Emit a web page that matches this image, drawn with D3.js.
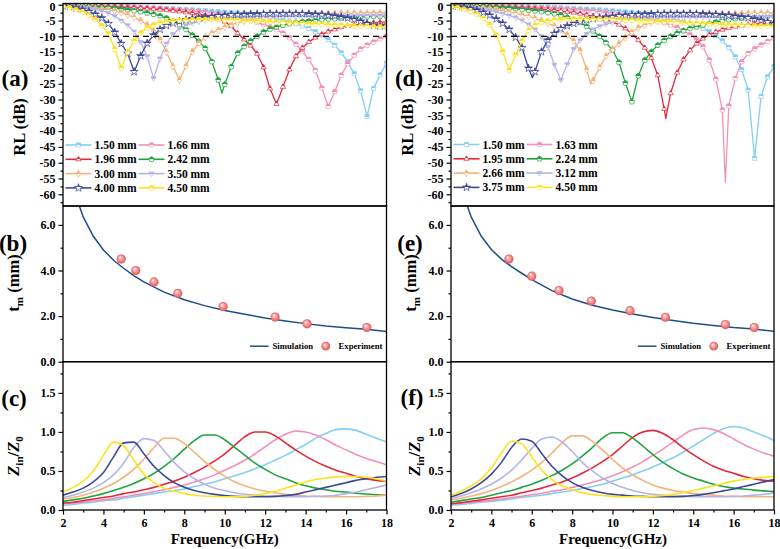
<!DOCTYPE html>
<html><head><meta charset="utf-8">
<script src="https://cdn.jsdelivr.net/npm/d3@7"></script>
<style>
body{margin:0;background:#fff;}
svg{display:block;}
</style></head><body>
<svg id="chart" width="780" height="549"></svg>
<script>
// ---------------- DATA ----------------
const freqRL = [2.00,2.32,2.64,2.96,3.28,3.60,3.92,4.24,4.56,4.88,5.20,5.52,5.84,6.16,6.48,6.80,7.12,7.44,7.76,8.08,8.40,8.72,9.04,9.36,9.68,10.00,10.32,10.64,10.96,11.28,11.60,11.92,12.24,12.56,12.88,13.20,13.52,13.84,14.16,14.48,14.80,15.12,15.44,15.76,16.08,16.40,16.72,17.04,17.36,17.68,18.00];

const thicknessA = ["1.50 mm","1.66 mm","1.96 mm","2.42 mm","3.00 mm","3.50 mm","4.00 mm","4.50 mm"];
const thicknessD = ["1.50 mm","1.63 mm","1.95 mm","2.24 mm","2.66 mm","3.12 mm","3.75 mm","4.50 mm"];

// panel (a) RL values (dB)
const rlA150 = [-0.1,-0.15,-0.2,-0.25,-0.3,-0.35,-0.4,-0.45,-0.5,-0.55,-0.6,-0.7,-0.8,-0.9,-1.0,-1.1,-1.2,-1.3,-1.4,-1.5,-1.6,-1.7,-1.85,-2.0,-2.15,-2.3,-2.5,-2.7,-2.9,-3.1,-3.4,-3.7,-4.0,-4.4,-4.9,-5.4,-6.0,-6.7,-7.5,-8.5,-9.6,-11.0,-12.8,-15.2,-18.0,-21.8,-27.2,-35.4,-26.5,-22.2,-18.5];
const rlA166 = [-0.1,-0.15,-0.2,-0.25,-0.3,-0.35,-0.4,-0.5,-0.55,-0.6,-0.7,-0.8,-0.9,-1.0,-1.1,-1.2,-1.35,-1.5,-1.65,-1.8,-2.0,-2.2,-2.4,-2.6,-2.9,-3.2,-3.6,-4.0,-4.5,-5.0,-5.6,-6.3,-7.0,-7.9,-9.0,-10.4,-12.5,-14.8,-17.3,-20.8,-26.3,-32.2,-27.5,-22.3,-18.7,-16.0,-14.0,-12.8,-11.8,-10.8,-9.9];
const rlA196 = [-0.15,-0.2,-0.25,-0.3,-0.35,-0.4,-0.5,-0.6,-0.7,-0.8,-0.9,-1.0,-1.1,-1.25,-1.4,-1.55,-1.7,-1.9,-2.1,-2.4,-2.7,-3.0,-3.4,-3.9,-4.5,-5.3,-6.8,-9.0,-11.0,-12.9,-15.5,-19.8,-26.5,-31.4,-26.0,-20.5,-16.3,-13.6,-11.8,-10.4,-9.4,-8.5,-7.8,-7.1,-6.7,-6.4,-6.1,-5.9,-5.7,-5.55,-5.4];
const rlA242 = [-0.2,-0.25,-0.35,-0.45,-0.55,-0.65,-0.8,-0.95,-1.1,-1.3,-1.6,-1.9,-2.2,-2.6,-3.0,-3.5,-4.2,-5.1,-6.3,-7.8,-9.6,-11.6,-13.8,-18.0,-23.8,-25.2,-19.6,-15.3,-13.2,-11.5,-10.0,-8.6,-7.7,-7.0,-6.5,-6.0,-5.6,-5.3,-5.1,-4.9,-4.7,-4.5,-4.4,-4.2,-4.1,-4.0,-3.9,-3.8,-3.7,-3.65,-3.6];
const rlA300 = [-0.3,-0.4,-0.55,-0.7,-0.9,-1.1,-1.35,-1.65,-2.0,-2.5,-3.2,-4.0,-5.0,-6.3,-8.3,-11.0,-15.0,-19.5,-23.8,-19.4,-14.8,-12.1,-10.3,-9.0,-8.0,-7.1,-6.3,-5.7,-5.2,-4.8,-4.4,-4.1,-3.85,-3.65,-3.5,-3.35,-3.2,-3.1,-3.0,-2.95,-2.9,-2.85,-2.8,-2.75,-2.7,-2.7,-2.65,-2.65,-2.6,-2.6,-2.6];
const rlA350 = [-0.3,-0.45,-0.6,-0.8,-1.05,-1.4,-1.9,-2.6,-3.6,-5.0,-6.5,-8.5,-11.8,-16.3,-23.3,-17.0,-12.3,-9.3,-7.6,-6.5,-5.8,-5.3,-4.9,-4.6,-4.4,-4.2,-4.05,-3.95,-3.85,-3.8,-3.75,-3.7,-3.7,-3.65,-3.65,-3.6,-3.6,-3.6,-3.55,-3.55,-3.5,-3.5,-3.5,-3.45,-3.45,-3.45,-3.4,-3.4,-3.4,-3.4,-3.4];
const rlA400 = [-0.3,-0.6,-1.0,-1.5,-2.1,-3.0,-4.2,-6.0,-8.7,-12.3,-15.4,-21.2,-16.2,-12.2,-9.6,-7.8,-6.6,-5.8,-5.2,-4.8,-4.4,-4.1,-3.9,-3.7,-3.5,-3.35,-3.2,-3.1,-3.0,-2.95,-2.9,-2.85,-2.8,-2.8,-2.8,-2.8,-2.8,-2.85,-2.9,-3.0,-3.1,-3.3,-3.55,-3.85,-4.2,-4.6,-5.2,-5.9,-6.5,-6.7,-6.6];
const rlA450 = [-0.5,-0.9,-1.5,-2.3,-3.3,-4.7,-6.6,-9.2,-14.0,-20.0,-15.0,-11.4,-8.9,-7.3,-6.3,-5.7,-5.3,-5.05,-4.9,-4.8,-4.75,-4.7,-4.7,-4.7,-4.75,-4.8,-4.85,-4.9,-5.0,-5.1,-5.2,-5.3,-5.4,-5.5,-5.6,-5.7,-5.8,-5.9,-6.0,-6.1,-6.2,-6.3,-6.4,-6.5,-6.6,-6.7,-6.8,-6.85,-6.9,-6.95,-7.0];
// off-grid dip minima (drawn in the line, no marker)
const dipA_series = [3];
const dipA_freq = [9.86];
const dipA_rl = [-28.0];

// panel (d) RL values (dB)
const rlD150 = [-0.1,-0.12,-0.15,-0.2,-0.22,-0.25,-0.3,-0.35,-0.4,-0.45,-0.5,-0.55,-0.6,-0.7,-0.75,-0.8,-0.9,-1.0,-1.1,-1.2,-1.3,-1.4,-1.5,-1.6,-1.75,-1.9,-2.05,-2.2,-2.4,-2.6,-2.85,-3.1,-3.4,-3.8,-4.3,-4.8,-5.4,-6.0,-6.7,-7.5,-8.5,-9.8,-11.4,-13.5,-16.5,-20.5,-27.0,-48.6,-29.0,-22.8,-19.6];
const rlD163 = [-0.1,-0.15,-0.2,-0.25,-0.3,-0.35,-0.4,-0.45,-0.5,-0.55,-0.6,-0.7,-0.8,-0.9,-1.0,-1.1,-1.2,-1.3,-1.45,-1.6,-1.75,-1.9,-2.1,-2.3,-2.5,-2.7,-2.95,-3.2,-3.5,-3.8,-4.2,-4.6,-5.1,-5.7,-6.4,-7.2,-8.2,-9.5,-11.0,-13.3,-17.5,-23.5,-33.3,-32.0,-23.3,-18.0,-15.4,-13.9,-12.7,-11.6,-10.6];
const rlD195 = [-0.15,-0.2,-0.25,-0.3,-0.35,-0.4,-0.5,-0.6,-0.7,-0.8,-0.9,-1.0,-1.15,-1.3,-1.45,-1.6,-1.8,-2.0,-2.25,-2.5,-2.8,-3.2,-3.6,-4.1,-4.7,-5.4,-6.3,-7.5,-9.2,-11.2,-13.6,-16.8,-22.3,-33.0,-28.0,-21.5,-17.3,-14.4,-12.3,-10.7,-9.5,-8.6,-7.9,-7.3,-6.9,-6.6,-6.3,-6.1,-5.95,-5.8,-5.7];
const rlD224 = [-0.2,-0.25,-0.3,-0.4,-0.5,-0.6,-0.7,-0.85,-1.0,-1.15,-1.3,-1.5,-1.7,-1.95,-2.2,-2.5,-2.85,-3.3,-4.0,-4.7,-5.6,-6.8,-8.3,-10.0,-12.0,-14.3,-18.2,-24.8,-30.7,-22.5,-17.5,-14.9,-12.8,-11.3,-10.0,-9.0,-8.2,-7.5,-7.0,-6.4,-5.9,-5.4,-5.0,-4.7,-4.4,-4.2,-4.0,-3.9,-3.8,-3.7,-3.6];
const rlD266 = [-0.2,-0.3,-0.45,-0.6,-0.8,-1.05,-1.3,-1.6,-1.9,-2.3,-2.7,-3.2,-3.7,-4.3,-5.0,-5.8,-6.8,-8.0,-9.5,-11.5,-14.5,-20.5,-24.0,-19.8,-16.3,-14.1,-12.3,-10.4,-8.7,-7.3,-6.4,-5.7,-5.2,-4.8,-4.4,-4.1,-3.85,-3.65,-3.5,-3.35,-3.2,-3.1,-3.0,-2.9,-2.85,-2.8,-2.75,-2.7,-2.7,-2.65,-2.6];
const rlD312 = [-0.3,-0.45,-0.6,-0.85,-1.1,-1.45,-1.85,-2.3,-2.8,-3.4,-4.1,-5.0,-6.2,-7.8,-10.0,-13.3,-19.0,-23.8,-18.8,-14.0,-11.2,-9.2,-7.8,-6.8,-6.1,-5.6,-5.2,-4.9,-4.7,-4.5,-4.35,-4.25,-4.15,-4.1,-4.05,-4.0,-4.0,-3.95,-3.95,-3.9,-3.9,-3.9,-3.85,-3.85,-3.85,-3.8,-3.8,-3.8,-3.8,-3.8,-3.8];
const rlD375 = [-0.3,-0.5,-0.8,-1.2,-1.7,-2.4,-3.3,-4.5,-5.9,-7.8,-10.3,-13.6,-20.1,-21.2,-14.9,-11.2,-9.1,-7.6,-6.7,-5.9,-5.3,-4.8,-4.4,-4.1,-3.9,-3.7,-3.5,-3.35,-3.2,-3.1,-3.0,-2.9,-2.85,-2.8,-2.8,-2.8,-2.8,-2.8,-2.85,-2.9,-3.0,-3.1,-3.25,-3.4,-3.6,-3.85,-4.15,-4.5,-4.9,-5.4,-5.9];
const rlD450 = [-0.5,-0.9,-1.4,-2.1,-3.0,-4.3,-6.3,-9.6,-14.8,-20.7,-15.8,-11.4,-8.1,-6.5,-5.6,-5.1,-4.85,-4.7,-4.6,-4.55,-4.5,-4.5,-4.5,-4.55,-4.6,-4.65,-4.7,-4.8,-4.9,-5.0,-5.1,-5.2,-5.3,-5.4,-5.5,-5.6,-5.7,-5.8,-5.9,-6.0,-6.1,-6.2,-6.3,-6.4,-6.45,-6.5,-6.55,-6.6,-6.65,-6.7,-6.7];
const dipD_series = [6, 4, 2, 1];
const dipD_freq = [6.03, 8.92, 12.64, 15.59];
const dipD_rl = [-23.1, -25.0, -36.0, -56.2];

// panels (b)/(e): matching thickness
const expA_freq = [4.88, 5.60, 6.50, 7.68, 9.92, 12.49, 14.07, 17.03];
const expA_t = [4.50, 4.00, 3.50, 3.00, 2.42, 1.96, 1.66, 1.50];
const expD_freq = [4.87, 6.00, 7.35, 8.95, 10.87, 12.62, 15.59, 17.02];
const expD_t = [4.50, 3.75, 3.12, 2.66, 2.24, 1.95, 1.63, 1.50];
const simFreq = [2.6, 2.8, 3.0, 3.5, 4.0, 4.5, 5.0, 5.5, 6.0, 7.0, 8.0, 9.0, 10.0, 11.0, 12.0, 13.0, 14.0, 15.0, 16.0, 17.0, 18.0];
const simA_t = [7.5, 6.85, 6.35, 5.5, 4.9, 4.45, 4.1, 3.78, 3.5, 3.05, 2.72, 2.46, 2.25, 2.08, 1.92, 1.79, 1.67, 1.57, 1.49, 1.42, 1.33];
const simD_t = [7.5, 6.85, 6.35, 5.5, 4.92, 4.5, 4.17, 3.88, 3.6, 3.12, 2.75, 2.48, 2.27, 2.09, 1.94, 1.81, 1.69, 1.59, 1.5, 1.43, 1.34];

// panels (c)/(f): |Zin/Z0|
const zFreq = [2,2.5,3,3.5,4,4.5,5,5.5,6,6.5,7,7.5,8,8.5,9,9.5,10,10.5,11,11.5,12,12.5,13,13.5,14,14.5,15,15.5,16,16.5,17,17.5,18];
const zC150 = [0.06,0.07,0.09,0.10,0.12,0.13,0.15,0.17,0.19,0.21,0.23,0.25,0.27,0.30,0.33,0.36,0.40,0.44,0.48,0.53,0.58,0.64,0.70,0.77,0.84,0.92,0.98,1.03,1.04,1.02,0.97,0.92,0.87];
const zC166 = [0.08,0.09,0.10,0.12,0.13,0.15,0.17,0.19,0.21,0.235,0.26,0.29,0.32,0.36,0.40,0.45,0.51,0.57,0.64,0.72,0.81,0.90,0.97,1.01,1.0,0.96,0.90,0.83,0.77,0.71,0.66,0.62,0.58];
const zC196 = [0.09,0.10,0.12,0.14,0.16,0.18,0.21,0.23,0.26,0.29,0.33,0.37,0.42,0.48,0.55,0.63,0.72,0.83,0.94,1.0,1.0,0.95,0.86,0.77,0.69,0.62,0.56,0.51,0.47,0.43,0.40,0.38,0.37];
const zC242 = [0.11,0.13,0.15,0.18,0.21,0.25,0.29,0.34,0.40,0.47,0.56,0.66,0.78,0.89,0.96,0.96,0.90,0.80,0.70,0.60,0.52,0.45,0.40,0.35,0.31,0.28,0.26,0.24,0.23,0.215,0.205,0.195,0.19];
const zC300 = [0.14,0.16,0.19,0.23,0.28,0.34,0.42,0.52,0.65,0.80,0.92,0.92,0.85,0.74,0.62,0.52,0.43,0.36,0.31,0.27,0.24,0.22,0.20,0.19,0.18,0.175,0.17,0.17,0.17,0.17,0.175,0.18,0.19];
const zC350 = [0.16,0.19,0.23,0.28,0.35,0.45,0.60,0.80,0.915,0.89,0.76,0.61,0.49,0.40,0.33,0.28,0.25,0.22,0.20,0.19,0.18,0.175,0.17,0.17,0.17,0.175,0.18,0.19,0.21,0.23,0.26,0.29,0.32];
const zC400 = [0.19,0.23,0.28,0.36,0.48,0.68,0.86,0.87,0.72,0.56,0.44,0.35,0.29,0.25,0.22,0.20,0.185,0.175,0.17,0.17,0.17,0.175,0.185,0.20,0.23,0.26,0.29,0.32,0.35,0.38,0.40,0.42,0.43];
const zC450 = [0.23,0.29,0.37,0.50,0.70,0.87,0.82,0.64,0.46,0.35,0.28,0.24,0.21,0.19,0.18,0.175,0.17,0.17,0.175,0.19,0.21,0.24,0.28,0.32,0.36,0.39,0.41,0.425,0.43,0.43,0.42,0.40,0.37];
const zF150 = [0.06,0.07,0.085,0.10,0.11,0.125,0.14,0.16,0.175,0.19,0.21,0.23,0.25,0.275,0.30,0.33,0.37,0.41,0.45,0.50,0.55,0.61,0.67,0.74,0.82,0.90,0.98,1.04,1.07,1.05,1.0,0.95,0.89];
const zF163 = [0.075,0.085,0.10,0.11,0.125,0.14,0.16,0.175,0.195,0.215,0.24,0.26,0.29,0.32,0.355,0.39,0.44,0.49,0.55,0.62,0.70,0.78,0.87,0.96,1.03,1.05,1.03,0.98,0.91,0.84,0.78,0.73,0.69];
const zF195 = [0.08,0.095,0.11,0.13,0.15,0.17,0.19,0.22,0.25,0.28,0.32,0.36,0.41,0.47,0.54,0.62,0.71,0.82,0.93,1.0,1.02,0.98,0.90,0.80,0.71,0.63,0.56,0.51,0.47,0.43,0.40,0.38,0.37];
const zF224 = [0.10,0.12,0.14,0.16,0.19,0.22,0.25,0.29,0.33,0.38,0.44,0.51,0.59,0.69,0.80,0.92,0.99,0.99,0.92,0.82,0.71,0.61,0.53,0.46,0.41,0.37,0.33,0.30,0.28,0.27,0.255,0.245,0.235];
const zF266 = [0.13,0.15,0.18,0.21,0.25,0.30,0.36,0.43,0.51,0.61,0.73,0.86,0.95,0.95,0.88,0.77,0.65,0.54,0.45,0.38,0.32,0.28,0.25,0.23,0.21,0.20,0.19,0.18,0.175,0.17,0.17,0.17,0.17];
const zF312 = [0.15,0.18,0.22,0.27,0.33,0.41,0.51,0.64,0.79,0.91,0.935,0.87,0.75,0.61,0.50,0.41,0.34,0.29,0.25,0.22,0.20,0.19,0.18,0.175,0.17,0.17,0.17,0.17,0.175,0.18,0.19,0.20,0.22];
const zF375 = [0.17,0.21,0.27,0.35,0.46,0.61,0.80,0.91,0.88,0.72,0.56,0.44,0.35,0.29,0.25,0.22,0.20,0.19,0.18,0.175,0.17,0.17,0.17,0.175,0.185,0.20,0.22,0.245,0.27,0.30,0.33,0.36,0.39];
const zF450 = [0.19,0.24,0.31,0.40,0.54,0.73,0.88,0.85,0.68,0.51,0.39,0.31,0.26,0.22,0.20,0.185,0.175,0.17,0.17,0.17,0.175,0.185,0.20,0.22,0.25,0.28,0.31,0.34,0.37,0.39,0.41,0.42,0.43];

// ticks
const rlTicks = [0,-5,-10,-15,-20,-25,-30,-35,-40,-45,-50,-55,-60];
const tmTicks = [0,2,4,6];
const zTicks = [0,0.5,1.0,1.5];
const freqTicks = [2,4,6,8,10,12,14,16,18];

// ---------------- STYLE / LAYOUT ----------------
const FONT = "'Liberation Serif','Times New Roman',serif";
const seriesColors = ["#83cff3","#f290b8","#e4283c","#1fa43f","#f2b47b","#b4b5e5","#3e4898","#fde31f"];
const Y_TOP = 3.5, Y_AB = 206, Y_BC = 361.7, Y_BOT = 510;

const svg = d3.select("#chart");
const defs = svg.append("defs");
seriesColors.forEach((c,i)=>{
  const lg = defs.append("linearGradient").attr("id","hf"+i).attr("x1",0).attr("y1",0).attr("x2",0).attr("y2",1);
  lg.append("stop").attr("offset","0%").attr("stop-color",c);
  lg.append("stop").attr("offset","50%").attr("stop-color",c);
  lg.append("stop").attr("offset","50%").attr("stop-color","#fff");
  lg.append("stop").attr("offset","100%").attr("stop-color","#fff");
});
const rg = defs.append("radialGradient").attr("id","sphere").attr("cx","50%").attr("cy","50%").attr("r","50%").attr("fx","35%").attr("fy","30%");
rg.append("stop").attr("offset","0%").attr("stop-color","#ffffff");
rg.append("stop").attr("offset","30%").attr("stop-color","#f9b8b8");
rg.append("stop").attr("offset","75%").attr("stop-color","#f07474");
rg.append("stop").attr("offset","100%").attr("stop-color","#de5a5a");

function polygonSym(n, rot, scale){
  return {draw(ctx, size){
    const r = Math.sqrt(size)*scale;
    for(let i=0;i<n;i++){
      const a = rot + i*2*Math.PI/n;
      const px = r*Math.cos(a), py = r*Math.sin(a);
      if(i===0) ctx.moveTo(px,py); else ctx.lineTo(px,py);
    }
    ctx.closePath();
  }};
}
const symbolTypes = [d3.symbolSquare, d3.symbolCircle, polygonSym(3,-Math.PI/2,0.62), polygonSym(5,-Math.PI/2,0.6),
  d3.symbolDiamond, polygonSym(3,Math.PI/2,0.62), d3.symbolStar, polygonSym(6,0,0.58)];
const symSizes = [17,19,24,22,16,24,20,21];

function styleAxis(g){
  g.attr("font-family",FONT).attr("font-size",12).attr("font-weight","bold");
  g.select(".domain").remove();
  g.selectAll("line").attr("stroke","#000").attr("stroke-width",1.2);
  g.selectAll("text").attr("fill","#000");
}

function drawColumn(cfg){
  const x = d3.scaleLinear().domain([2,18]).range([cfg.x0,cfg.x1]);
  const yRL = d3.scaleLinear().domain([-63.7,0.4]).range([Y_AB,Y_TOP]);
  const yT = d3.scaleLinear().domain([0,6.83]).range([Y_BC,Y_AB]);
  const yZ = d3.scaleLinear().domain([0,1.9]).range([Y_BOT,Y_BC]);
  const id = cfg.id;
  const panels = [[Y_TOP,Y_AB],[Y_AB,Y_BC],[Y_BC,Y_BOT]];
  panels.forEach((p,k)=>{
    defs.append("clipPath").attr("id",`clip${id}${k}`).append("rect")
      .attr("x",cfg.x0).attr("y",p[0]).attr("width",cfg.x1-cfg.x0).attr("height",p[1]-p[0]);
  });
  const root = svg.append("g");

  // ---- panel RL ----
  const gA = root.append("g").attr("clip-path",`url(#clip${id}0)`);
  const lineRL = d3.line().x(d=>x(d[0])).y(d=>yRL(d[1]));
  cfg.rl.forEach((vals,s)=>{
    const col = seriesColors[s];
    let pts = freqRL.map((f,i)=>[f,vals[i]]);
    cfg.dipS.forEach((ss,j)=>{ if(ss===s) pts.push([cfg.dipF[j],cfg.dipR[j]]); });
    pts.sort((a,b)=>a[0]-b[0]);
    gA.append("path").attr("d",lineRL(pts)).attr("fill","none").attr("stroke",col).attr("stroke-width",1.3).attr("stroke-linejoin","round");
    const sym = d3.symbol().type(symbolTypes[s]).size(symSizes[s]);
    gA.append("g").selectAll("path").data(freqRL.map((f,i)=>[f,vals[i]])).join("path")
      .attr("transform",d=>`translate(${x(d[0])},${yRL(d[1])})`)
      .attr("d",sym).attr("fill",`url(#hf${s})`).attr("stroke",col).attr("stroke-width",0.7);
  });
  root.append("line").attr("x1",cfg.x0).attr("x2",cfg.x1).attr("y1",yRL(-10)).attr("y2",yRL(-10))
    .attr("stroke","#000").attr("stroke-width",1.3).attr("stroke-dasharray","6,4");

  // legend RL
  const leg = root.append("g").attr("font-family",FONT).attr("font-size",11.5).attr("font-weight","bold");
  cfg.names.forEach((nm,s)=>{
    const r = Math.floor(s/2), c = s%2;
    const ly = cfg.legY + r*14.3;
    const lx = cfg.x0 + (c===0 ? 2.5 : 75.5);
    leg.append("line").attr("x1",lx).attr("x2",lx+26).attr("y1",ly).attr("y2",ly).attr("stroke",seriesColors[s]).attr("stroke-width",1.6);
    leg.append("path").attr("transform",`translate(${lx+13},${ly})`).attr("d",d3.symbol().type(symbolTypes[s]).size(symSizes[s]))
      .attr("fill",`url(#hf${s})`).attr("stroke",seriesColors[s]).attr("stroke-width",0.7);
    leg.append("text").attr("x",lx+29).attr("y",ly+4).text(nm);
  });

  // ---- panel tm ----
  const gB = root.append("g").attr("clip-path",`url(#clip${id}1)`);
  gB.append("path").attr("d",d3.line().x((d,i)=>x(simFreq[i])).y(d=>yT(d))(cfg.sim))
    .attr("fill","none").attr("stroke","#1f4d8c").attr("stroke-width",1.5);
  gB.append("g").selectAll("circle").data(cfg.expT).join("circle")
    .attr("cx",(d,i)=>x(cfg.expF[i])).attr("cy",d=>yT(d)).attr("r",4.6).attr("fill","url(#sphere)");
  const lb = root.append("g").attr("font-family",FONT).attr("font-size",8.7).attr("font-weight","bold");
  const ly2 = 346.2;
  lb.append("line").attr("x1",cfg.x0+187).attr("x2",cfg.x0+205.5).attr("y1",ly2).attr("y2",ly2).attr("stroke","#1f4d8c").attr("stroke-width",1.5);
  lb.append("text").attr("x",cfg.x0+209.5).attr("y",ly2+3.2).text("Simulation");
  lb.append("circle").attr("cx",cfg.x0+262.8).attr("cy",ly2).attr("r",4.4).attr("fill","url(#sphere)");
  lb.append("text").attr("x",cfg.x0+275.5).attr("y",ly2+3.2).text("Experiment");

  // ---- panel Z ----
  const gC = root.append("g").attr("clip-path",`url(#clip${id}2)`);
  const lineZ = d3.line().x((d,i)=>x(zFreq[i])).y(d=>yZ(d)).curve(d3.curveMonotoneX);
  cfg.z.forEach((vals,s)=>{
    gC.append("path").attr("d",lineZ(vals)).attr("fill","none").attr("stroke",seriesColors[s]).attr("stroke-width",1.6);
  });

  // ---- axes ----
  function leftAx(scale, major, minor, fmt){
    const a = root.append("g").attr("transform",`translate(${cfg.x0},0)`)
      .call(d3.axisLeft(scale).tickValues(major).tickSize(4.5).tickPadding(3).tickFormat(fmt));
    styleAxis(a);
    const m = root.append("g").attr("transform",`translate(${cfg.x0},0)`)
      .call(d3.axisLeft(scale).tickValues(minor).tickSize(2.5).tickFormat(""));
    styleAxis(m);
    return a;
  }
  const axRL = leftAx(yRL, rlTicks, rlTicks.map(v=>v-2.5), d=>String(d));
  axRL.selectAll(".tick").filter(d=>d===0).select("text").attr("dy","0.5em");
  leftAx(yT, tmTicks, [1,3,5], d=>d.toFixed(1));
  leftAx(yZ, zTicks, [0.25,0.75,1.25,1.75], d=>d.toFixed(1));
  const bx = root.append("g").attr("transform",`translate(0,${Y_BOT})`)
    .call(d3.axisBottom(x).tickValues(freqTicks).tickSize(4.5).tickPadding(4).tickFormat(d=>String(d)));
  styleAxis(bx);
  const bxm = root.append("g").attr("transform",`translate(0,${Y_BOT})`)
    .call(d3.axisBottom(x).tickValues([3,5,7,9,11,13,15,17]).tickSize(2.5).tickFormat(""));
  styleAxis(bxm);

  // frames
  panels.forEach(p=>{
    root.append("rect").attr("x",cfg.x0).attr("y",p[0]).attr("width",cfg.x1-cfg.x0).attr("height",p[1]-p[0])
      .attr("fill","none").attr("stroke","#000").attr("stroke-width",1.3);
  });

  // titles
  const t = root.append("g").attr("font-family",FONT).attr("font-weight","bold").attr("fill","#000");
  t.append("text").attr("x",cfg.freqX).attr("y",543.5).attr("text-anchor","middle").attr("font-size",15).text("Frequency(GHz)");
  cfg.labels.forEach((lab,k)=>{
    t.append("text").attr("x",cfg.labX[k]).attr("y",cfg.labY[k]+6).attr("text-anchor","middle").attr("font-size",23).text(lab);
  });
  t.append("text").attr("transform",`translate(${cfg.ttlX[0]+5.5},127) rotate(-90)`).attr("text-anchor","middle").attr("font-size",16.5).text("RL (dB)");
  const tm = t.append("text").attr("transform",`translate(${cfg.ttlX[1]+5},283) rotate(-90)`).attr("text-anchor","middle").attr("font-size",16.5);
  tm.append("tspan").text("t");
  tm.append("tspan").attr("font-size",11).attr("dy",4).text("m");
  tm.append("tspan").attr("dy",-4).text(" (mm)");
  const zt = t.append("text").attr("transform",`translate(${cfg.ttlX[2]+5},456) rotate(-90)`).attr("text-anchor","middle").attr("font-size",16.5);
  zt.append("tspan").attr("font-style","italic").text("Z");
  zt.append("tspan").attr("font-size",11).attr("dy",4).text("in");
  zt.append("tspan").attr("dy",-4).text("/");
  zt.append("tspan").attr("font-style","italic").text("Z");
  zt.append("tspan").attr("font-size",11).attr("dy",4).text("0");
}

drawColumn({id:"L", x0:63, x1:386.5, rl:[rlA150,rlA166,rlA196,rlA242,rlA300,rlA350,rlA400,rlA450],
  dipS:dipA_series, dipF:dipA_freq, dipR:dipA_rl, names:thicknessA, legY:145,
  expF:expA_freq, expT:expA_t, sim:simA_t, z:[zC150,zC166,zC196,zC242,zC300,zC350,zC400,zC450],
  labels:["(a)","(b)","(c)"], labX:[15,13,14], labY:[80,245,400], ttlX:[19,14,14], freqX:224.7});
drawColumn({id:"R", x0:451, x1:774, rl:[rlD150,rlD163,rlD195,rlD224,rlD266,rlD312,rlD375,rlD450],
  dipS:dipD_series, dipF:dipD_freq, dipR:dipD_rl, names:thicknessD, legY:144.5,
  expF:expD_freq, expT:expD_t, sim:simD_t, z:[zF150,zF163,zF195,zF224,zF266,zF312,zF375,zF450],
  labels:["(d)","(e)","(f)"], labX:[409,410,412], labY:[80,245,399], ttlX:[407.5,411,415], freqX:613});
</script></body></html>
